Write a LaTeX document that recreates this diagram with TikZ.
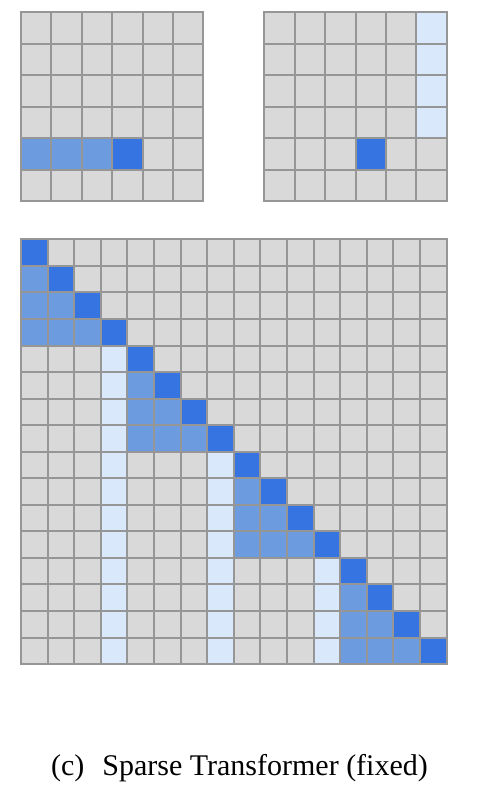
\documentclass[tikz,border=0pt]{standalone}
\usepackage{fontspec}
\setmainfont{Liberation Serif}
\definecolor{cellgray}{RGB}{217,217,217}
\definecolor{gridline}{RGB}{150,150,150}
\definecolor{darkblue}{RGB}{54,116,226}
\definecolor{midblue}{RGB}{108,155,224}
\definecolor{lightblue}{RGB}{218,232,252}
\tikzset{
  cellfill/.style={fill=#1},
  gridlines/.style={draw=gridline, line width=2pt, line cap=rect},
  captiontext/.style={font=\fontsize{30}{36}\selectfont, inner sep=0pt, anchor=base}
}
\begin{document}
\begin{tikzpicture}[x=1pt,y=-1pt]
\useasboundingbox (0,0) rectangle (478,794);
% top-left 6x6 grid
\foreach \i in {0,...,5}{
  \foreach \j in {0,...,5}{
    \pgfmathsetmacro{\cx}{21+\j*30.4}
    \pgfmathsetmacro{\cy}{12.3+\i*31.5}
    \def\col{cellgray}
    \ifnum\i=4
      \ifnum\j<3 \def\col{midblue}\fi
      \ifnum\j=3 \def\col{darkblue}\fi
    \fi
    \fill[cellfill=\col] (\cx,\cy) rectangle ++(30.4,31.5);
  }
}
\foreach \k in {0,...,6}{
  \draw[gridlines] ({21+\k*30.4},12.3) -- ++(0,189);
  \draw[gridlines] (21,{12.3+\k*31.5}) -- ++(182.4,0);
}
% top-right 6x6 grid
\foreach \i in {0,...,5}{
  \foreach \j in {0,...,5}{
    \pgfmathsetmacro{\cx}{264.3+\j*30.4}
    \pgfmathsetmacro{\cy}{12.3+\i*31.5}
    \def\col{cellgray}
    \ifnum\i=4 \ifnum\j=3 \def\col{darkblue}\fi\fi
    \ifnum\j=5 \ifnum\i<4 \def\col{lightblue}\fi\fi
    \fill[cellfill=\col] (\cx,\cy) rectangle ++(30.4,31.5);
  }
}
\foreach \k in {0,...,6}{
  \draw[gridlines] ({264.3+\k*30.4},12.3) -- ++(0,189);
  \draw[gridlines] (264.3,{12.3+\k*31.5}) -- ++(182.4,0);
}
% bottom 16x16 grid
\foreach \i in {0,...,15}{
  \foreach \j in {0,...,15}{
    \pgfmathsetmacro{\cx}{21+\j*26.6}
    \pgfmathsetmacro{\cy}{239.3+\i*26.55}
    \pgfmathtruncatemacro{\bi}{int(\i/4)}
    \pgfmathtruncatemacro{\bj}{int(\j/4)}
    \pgfmathtruncatemacro{\mj}{mod(\j,4)}
    \def\col{cellgray}
    \ifnum\j<\i
      \ifnum\bi=\bj \def\col{midblue}\else
        \ifnum\mj=3 \def\col{lightblue}\fi
      \fi
    \fi
    \ifnum\i=\j \def\col{darkblue}\fi
    \fill[cellfill=\col] (\cx,\cy) rectangle ++(26.6,26.55);
  }
}
\foreach \k in {0,...,16}{
  \draw[gridlines] ({21+\k*26.6},239.3) -- ++(0,424.8);
  \draw[gridlines] (21,{239.3+\k*26.55}) -- ++(425.6,0);
}
\node[captiontext] (caption) at (239.5,775) {(c)\hspace{0.6em}Sparse Transformer (fixed)};
\end{tikzpicture}
\end{document}
